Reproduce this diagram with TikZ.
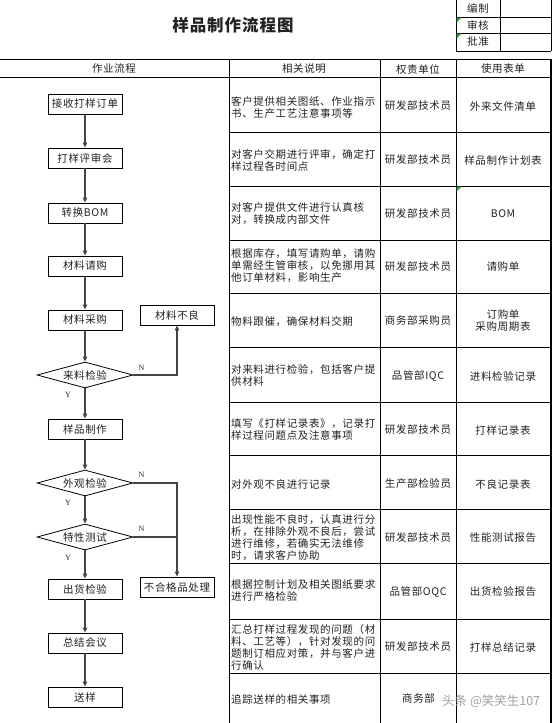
\documentclass[tikz,border=0pt]{standalone}
\usepackage{fontspec}
\setmainfont{Noto Sans CJK SC}
\newfontfamily\bodyf[LetterSpace=6]{Noto Sans CJK SC}
\newfontfamily\serifl{Liberation Serif}
\usetikzlibrary{shapes.geometric,arrows.meta}
\newcommand\bodytxt{\bodyf\fontsize{10.5}{12}\selectfont}
\definecolor{txt}{HTML}{222222}
\definecolor{flowgray}{HTML}{444444}
\definecolor{mark}{HTML}{3C9A3C}
\begin{document}
\begin{tikzpicture}[x=1pt,y=-1pt,
  proc/.style={draw, line width=0.8pt, minimum width=74pt, minimum height=20pt, inner sep=0pt, font=\bodytxt, text=txt},
  dec/.style={diamond, draw, line width=0.8pt, aspect=3.7, minimum width=96pt, minimum height=26pt, inner sep=0pt, font=\bodytxt, text=txt},
  flowarrow/.style={draw=flowgray, line width=1.2pt, -{Triangle[length=5pt,width=4.5pt]}},
  flowline/.style={draw=flowgray, line width=1.2pt},
  desc/.style={anchor=west, align=left, inner sep=0pt, font=\bodytxt, text=txt},
  cell/.style={align=center, inner sep=0pt, font=\bodytxt, text=txt},
  yn/.style={font=\serifl\fontsize{8}{9}\selectfont, inner sep=0pt, text=txt},
  grid/.style={line width=0.8pt},
  thick border/.style={line width=1.6pt},
  cmark/.style={fill=mark, draw=none}]
\useasboundingbox (0,0) rectangle (554,723);

% title
\node[font=\bodyf\fontsize{16.5}{18}\selectfont\bfseries, text=txt] (title) at (233,25) {样品制作流程图};

% approval box
\draw[grid] (456,0) -- (456,51) (500,0) -- (500,51) (551,0) -- (551,51);
\draw[grid] (456,17) -- (551,17) (456,33) -- (551,33) (456,51) -- (551,51);
\node[cell] (bz) at (478,8) {编制};
\node[cell] (sh) at (478,25) {审核};
\node[cell] (pz) at (478,42) {批准};
\fill[cmark] (456.5,17.5) -- (461.5,17.5) -- (456.5,22.5) -- cycle;
\fill[cmark] (456.5,33.5) -- (461.5,33.5) -- (456.5,38.5) -- cycle;

% table frame
\draw[thick border] (0,59.5) -- (551.5,59.5);
\draw[thick border] (551,59) -- (551,723);
\draw[grid] (0,77) -- (551,77);
\draw[grid] (229,59) -- (229,723) (380,59) -- (380,723) (456,59) -- (456,723);
\foreach \yy in {132,186,240,293,347,402,455,509,563,619,673}
  \draw[grid] (229,\yy) -- (551,\yy);
\fill[cmark] (456.5,186.5) -- (461.5,186.5) -- (456.5,191.5) -- cycle;

% header
\node[cell] (h1) at (114,69) {作业流程};
\node[cell] (h2) at (304,69) {相关说明};
\node[cell] (h3) at (418,69) {权责单位};
\node[cell] (h4) at (503,69) {使用表单};

% flow
\node[proc] (n1) at (85,104) {接收打样订单};
\node[proc] (n2) at (85,158) {打样评审会};
\node[proc] (n3) at (85,213) {转换BOM};
\node[proc] (n4) at (85,266) {材料请购};
\node[proc] (n5) at (85,320) {材料采购};
\node[dec]  (d1) at (85,375) {来料检验};
\node[proc] (bad) at (177,315) {材料不良};
\node[proc] (n6) at (85,429) {样品制作};
\node[dec]  (d2) at (85,483) {外观检验};
\node[dec]  (d3) at (85,537) {特性测试};
\node[proc] (rej) at (177,587) {不合格品处理};
\node[proc] (n7) at (85,589) {出货检验};
\node[proc] (n8) at (85,643) {总结会议};
\node[proc] (n9) at (85,697) {送样};

\draw[flowarrow] (n1) -- (n2);
\draw[flowarrow] (n2) -- (n3);
\draw[flowarrow] (n3) -- (n4);
\draw[flowarrow] (n4) -- (n5);
\draw[flowarrow] (n5) -- (d1);
\draw[flowarrow] (d1) -- (n6);
\draw[flowarrow] (n6) -- (d2);
\draw[flowarrow] (d2) -- (d3);
\draw[flowarrow] (d3) -- (n7);
\draw[flowarrow] (n7) -- (n8);
\draw[flowarrow] (n8) -- (n9);
\draw[flowarrow] (d1.east) -| (bad.south);
\draw[flowarrow] (d2.east) -| (rej.north);
\draw[flowline] (d3.east) -- (d3.east -| rej.north);

\node[yn] (N1) at ([xshift=8pt,yshift=7pt]d1.east) {N};
\node[yn] (Y1) at ([xshift=-17pt,yshift=-6pt]d1.south) {Y};
\node[yn] (N2) at ([xshift=8pt,yshift=8pt]d2.east) {N};
\node[yn] (Y2) at ([xshift=-17pt,yshift=-6pt]d2.south) {Y};
\node[yn] (N3) at ([xshift=8pt,yshift=8pt]d3.east) {N};
\node[yn] (Y3) at ([xshift=-17pt,yshift=-7pt]d3.south) {Y};

% descriptions
\node[desc] (t1) at (231,107) {客户提供相关图纸、作业指示\\书、生产工艺注意事项等};
\node[desc] (t2) at (231,160) {对客户交期进行评审，确定打\\样过程各时间点};
\node[desc] (t3) at (231,214) {对客户提供文件进行认真核\\对，转换成内部文件};
\node[desc] (t4) at (231,266) {根据库存，填写请购单，请购\\单需经生管审核，以免挪用其\\他订单材料，影响生产};
\node[desc] (t5) at (231,322) {物料跟催，确保材料交期};
\node[desc] (t6) at (231,375) {对来料进行检验，包括客户提\\供材料};
\node[desc] (t7) at (231,429) {填写《打样记录表》，记录打\\样过程问题点及注意事项};
\node[desc] (t8) at (231,484) {对外观不良进行记录};
\node[desc] (t9) at (231,538) {出现性能不良时，认真进行分\\析，在排除外观不良后，尝试\\进行维修，若确实无法维修\\时，请求客户协助};
\node[desc] (t10) at (231,591) {根据控制计划及相关图纸要求\\进行严格检验};
\node[desc] (t11) at (231,647) {汇总打样过程发现的问题（材\\料、工艺等），针对发现的问\\题制订相应对策，并与客户进\\行确认};
\node[desc] (t12) at (231,699) {追踪送样的相关事项};

% responsible units
\node[cell] (r1) at (418,106) {研发部技术员};
\node[cell] (r2) at (418,160) {研发部技术员};
\node[cell] (r3) at (418,214) {研发部技术员};
\node[cell] (r4) at (418,267) {研发部技术员};
\node[cell] (r5) at (418,321) {商务部采购员};
\node[cell] (r6) at (418,376) {品管部IQC};
\node[cell] (r7) at (418,430) {研发部技术员};
\node[cell] (r8) at (418,484) {生产部检验员};
\node[cell] (r9) at (418,538) {研发部技术员};
\node[cell] (r10) at (418,592) {品管部OQC};
\node[cell] (r11) at (418,647) {研发部技术员};
\node[cell, anchor=west] (r12) at (402,698) {商务部};

% forms
\node[cell] (f1) at (503,106) {外来文件清单};
\node[cell] (f2) at (503,160) {样品制作计划表};
\node[cell] (f3) at (503,214) {BOM};
\node[cell] (f4) at (503,267) {请购单};
\node[cell] (f5) at (503,321) {订购单\\采购周期表};
\node[cell] (f6) at (503,376) {进料检验记录};
\node[cell] (f7) at (503,430) {打样记录表};
\node[cell] (f8) at (503,484) {不良记录表};
\node[cell] (f9) at (503,538) {性能测试报告};
\node[cell] (f10) at (503,592) {出货检验报告};
\node[cell] (f11) at (503,647) {打样总结记录};

% watermark
\node[anchor=west, inner sep=0pt, font=\fontsize{12.5}{14}\selectfont, text=gray!75] (wm) at (442,701) {头条 @笑笑生107};
\end{tikzpicture}
\end{document}
